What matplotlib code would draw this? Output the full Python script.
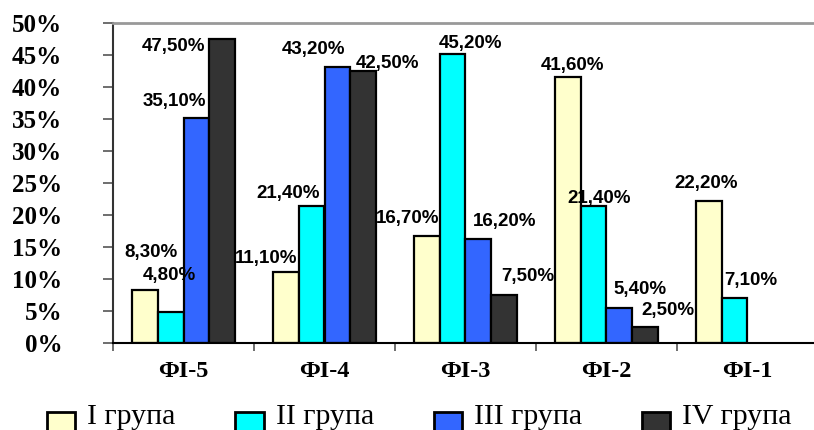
import numpy as np
import matplotlib
matplotlib.use("Agg")
import matplotlib.pyplot as plt
import matplotlib.patches as mpatches
from matplotlib.container import BarContainer
from matplotlib.legend_handler import HandlerPatch, update_from_first_child

# data (percent)
categories = ["ФI-5", "ФI-4", "ФI-3", "ФI-2", "ФI-1"]
groups = ["I група", "II група", "III група", "IV група"]
group_1 = [8.3, 11.1, 16.7, 41.6, 22.2]
group_2 = [4.8, 21.4, 45.2, 21.4, 7.1]
group_3 = [35.1, 43.2, 16.2, 5.4, np.nan]
group_4 = [47.5, 42.5, 7.5, 2.5, np.nan]
y_ticks = [0, 5, 10, 15, 20, 25, 30, 35, 40, 45, 50]

colors = ["#FFFFCC", "#00FFFF", "#3366FF", "#333333"]

# label offsets in pixels (dx, dy) from the top centre of each bar
label_shift = [
    [(6, 37), (-20, 13), (-19.5, 17.5), (4.5, 11.5), (-3, 17.5)],
    [(-1, 37), (-24, 12.5), (18, 10), (5.5, 7.5), (16, 17)],
    [(-22, 17), (-23.5, 17.5), (26, 18), (21, 18.5), (0, 0)],
    [(-48, -8), (24.5, 7.5), (23.5, 18.5), (22.5, 16.5), (0, 0)],
]

W, H = 814, 430
fig = plt.figure(figsize=(W / 100, H / 100), dpi=100)
ax = fig.add_axes([113 / W, (H - 343) / H, (818 - 113) / W, 320 / H])

x = np.arange(len(categories))
bw = 0.182
series = [group_1, group_2, group_3, group_4]
for i, vals in enumerate(series):
    pos = x + (i - 1.5) * bw
    vals = np.array(vals)
    ax.bar(pos, vals, width=bw, color=colors[i], edgecolor="black",
           linewidth=1.6, label=groups[i])
    for j, v in enumerate(vals):
        if np.isnan(v):
            continue
        dx, dy = label_shift[i][j]
        ax.annotate(f"{v:.2f}%".replace(".", ","), (pos[j], v),
                    xytext=(dx * 0.72, dy * 0.72), textcoords="offset points",
                    ha="center", va="center", fontsize=13.5,
                    fontweight="bold", family="Liberation Sans")

ax.set_xlim(-0.5, len(categories) - 0.5)
ax.set_ylim(0, 50)
ax.set_yticks(y_ticks)
ax.set_yticklabels([f"{t}%" for t in y_ticks], family="Liberation Serif",
                   fontweight="bold", fontsize=18)
ax.tick_params(axis="y", direction="out", length=7.5, width=1.2,
               color="#555555", pad=29)

ax.set_xticks(x)
ax.set_xticklabels(categories, family="Liberation Serif", fontweight="bold",
                   fontsize=17.5)
ax.set_xticks(np.arange(-0.5, len(categories)), minor=True)
ax.tick_params(axis="x", which="major", length=0, pad=13)
ax.tick_params(axis="x", which="minor", direction="out", length=5.5,
               width=1.2, color="#555555")

ax.spines["top"].set_color("#999999")
ax.spines["top"].set_linewidth(2)
ax.spines["left"].set_linewidth(1.5)
ax.spines["left"].set_color("#333333")
ax.spines["bottom"].set_linewidth(1.5)
ax.spines["right"].set_visible(False)


def low_box(legend, orig_handle, xdescent, ydescent, width, height, fontsize):
    # legend squares sit low, running off the bottom edge
    return mpatches.Rectangle((-xdescent, -ydescent - 0.45 * height),
                              width, height)


handles, labels = ax.get_legend_handles_labels()
box_handler = HandlerPatch(patch_func=low_box, update_func=update_from_first_child)
leg = fig.legend(handles, labels, ncol=4, loc="lower left",
                 bbox_to_anchor=(47 / W, 0.0), frameon=False,
                 prop={"family": "Liberation Serif", "size": 21.5},
                 handlelength=0.95, handleheight=0.8, handletextpad=0.4,
                 columnspacing=2.0, borderpad=0, borderaxespad=0,
                 handler_map={BarContainer: box_handler})
for p in leg.get_patches():
    p.set_linewidth(2)

fig.savefig("out.png", dpi=100)
